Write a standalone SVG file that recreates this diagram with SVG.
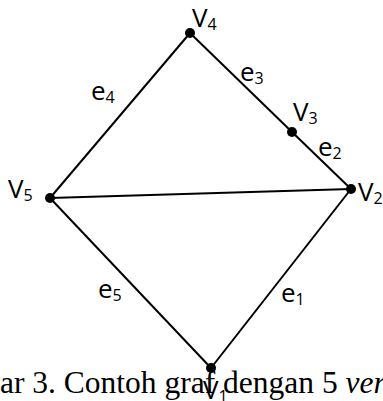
<svg xmlns="http://www.w3.org/2000/svg" width="383" height="401" viewBox="0 0 383 401">
<style>
.edge{stroke:#000;stroke-width:2;fill:none}
.dot{fill:#000}
.lbl{font-family:"Open Sans","Noto Sans",sans-serif;font-size:26px;fill:#000}
.sub{font-size:16px}
.cap{font-family:"Liberation Serif","Times New Roman",serif;font-size:31.5px;fill:#000}
</style>
<rect width="383" height="401" fill="#fff"/>
<g id="connectors">
<line class="edge" x1="190" y1="33" x2="292" y2="132"/>
<line class="edge" x1="292" y1="132" x2="351" y2="189"/>
<line class="edge" x1="190" y1="33" x2="50" y2="198"/>
<line class="edge" x1="50" y1="198" x2="351" y2="189"/>
<line class="edge" x1="50" y1="198" x2="211" y2="368"/>
<line class="edge" x1="351" y1="189" x2="211" y2="368"/>
</g>
<g id="edge-labels">
<text class="lbl" x="91" y="100">e<tspan class="sub" dy="3">4</tspan></text>
<text class="lbl" x="240" y="81">e<tspan class="sub" dy="3">3</tspan></text>
<text class="lbl" x="318" y="156">e<tspan class="sub" dy="3">2</tspan></text>
<text class="lbl" x="98" y="298">e<tspan class="sub" dy="3">5</tspan></text>
<text class="lbl" x="281" y="302">e<tspan class="sub" dy="3">1</tspan></text>
</g>
<text id="caption" class="cap" x="0" y="393">ar 3. Contoh graf dengan 5 <tspan font-style="italic">ver</tspan></text>
<g id="v4"><circle class="dot" cx="190" cy="33" r="5"/><text class="lbl" x="192" y="27">V<tspan class="sub" dy="3">4</tspan></text></g>
<g id="v3"><circle class="dot" cx="292" cy="132" r="5"/><text class="lbl" x="293" y="121">V<tspan class="sub" dy="3">3</tspan></text></g>
<g id="v2"><circle class="dot" cx="351" cy="189" r="5"/><text class="lbl" x="358" y="201">V<tspan class="sub" dy="3">2</tspan></text></g>
<g id="v5"><circle class="dot" cx="50" cy="198" r="5"/><text class="lbl" x="8" y="198">V<tspan class="sub" dy="3">5</tspan></text></g>
<g id="v1"><circle class="dot" cx="211" cy="368" r="5"/><text class="lbl" x="203" y="399">V<tspan class="sub" dy="3">1</tspan></text></g>
</svg>
